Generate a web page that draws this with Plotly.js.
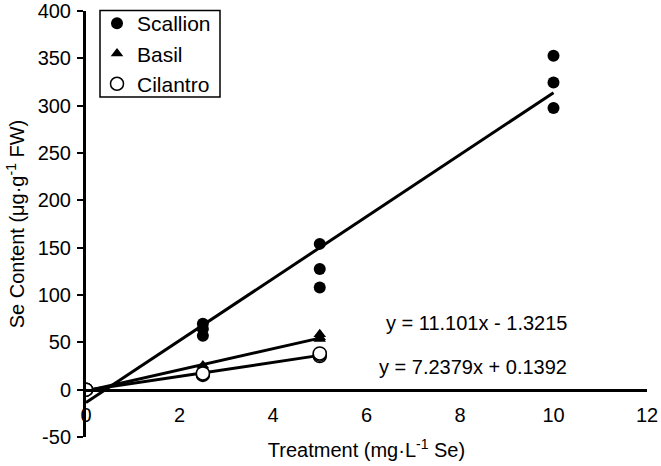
<!DOCTYPE html>
<html>
<head>
<meta charset="utf-8">
<script src="https://cdn.plot.ly/plotly-3.0.1.min.js"></script>
<style>html,body{margin:0;padding:0;background:#fff;}#chart{width:661px;height:466px;}</style>
</head>
<body>
<div id="chart"></div>
<script>
// Data
const scallionX = [0, 0, 0, 2.5, 2.5, 2.5, 5, 5, 5, 10, 10, 10];
const scallionY = [0, 0, 0, 69.7, 64, 57, 154, 127.5, 108, 352.7, 324.5, 297.5];
const basilX = [0, 0, 0, 2.5, 2.5, 2.5, 5, 5, 5];
const basilY = [0, 0, 0, 22, 24, 25.5, 53.5, 55.5, 58.5];
const cilantroX = [0, 0, 0, 2.5, 2.5, 2.5, 5, 5, 5];
const cilantroY = [0, 0, 0, 15.5, 16.4, 17.2, 35.5, 37, 38.3];
const equationLabels = ["y = 11.101x - 1.3215", "y = 7.2379x + 0.1392"];
const xTicks = [0, 2, 4, 6, 8, 10, 12];
const yTicks = [-50, 0, 50, 100, 150, 200, 250, 300, 350, 400];
const yTickLabels = ["-50", "0", "50", "100", "150", "200", "250", "300", "350", "400"];

function fit(xs, ys) {
  const n = xs.length;
  const mx = xs.reduce((a, b) => a + b, 0) / n;
  const my = ys.reduce((a, b) => a + b, 0) / n;
  let sxy = 0, sxx = 0;
  for (let i = 0; i < n; i++) { sxy += (xs[i] - mx) * (ys[i] - my); sxx += (xs[i] - mx) ** 2; }
  const m = sxy / sxx, b = my - m * mx;
  const x0 = Math.min(...xs), x1 = Math.max(...xs);
  return { x: [x0, x1], y: [m * x0 + b, m * x1 + b] };
}

const font = "Arial, 'Liberation Sans', sans-serif";
const lineStyle = { color: "#000", width: 3 };
const traces = [];
[[scallionX, scallionY], [basilX, basilY], [cilantroX, cilantroY]].forEach(([xs, ys]) => {
  const f = fit(xs, ys);
  traces.push({ x: f.x, y: f.y, mode: "lines", line: lineStyle, showlegend: false, hoverinfo: "skip" });
});
traces.push({ name: "Scallion", x: scallionX, y: scallionY, mode: "markers", type: "scatter",
  marker: { symbol: "circle", size: 12, color: "#000" } });
traces.push({ name: "Basil", x: basilX, y: basilY, mode: "markers", type: "scatter",
  marker: { symbol: "triangle-up", size: 11, color: "#000" } });
traces.push({ name: "Cilantro", x: cilantroX, y: cilantroY, mode: "markers", type: "scatter",
  marker: { symbol: "circle", size: 13, color: "#fff", line: { color: "#000", width: 1.5 } } });

// pixel -> paper helpers for the plot area (l=86, r=647, t=11, b=437)
const px = v => (v - 86) / 561;
const py = v => (437 - v) / 426;

const layout = {
  width: 661, height: 466,
  margin: { l: 86, r: 14, t: 11, b: 29, autoexpand: false },
  paper_bgcolor: "#fff", plot_bgcolor: "#fff",
  font: { family: font, size: 20, color: "#000" },
  showlegend: true,
  legend: { x: px(97), y: py(3), xanchor: "left", yanchor: "top", borderwidth: 0,
    bgcolor: "rgba(0,0,0,0)", font: { size: 21, family: font } },
  shapes: [
    { type: "rect", xref: "paper", yref: "paper", x0: px(100), x1: px(220), y0: py(97), y1: py(10.5),
      line: { color: "#000", width: 1.5 }, fillcolor: "rgba(0,0,0,0)", layer: "above" }
  ],
  xaxis: {
    range: [0, 12], tickvals: xTicks, showgrid: false, zeroline: false,
    showline: true, linecolor: "#000", linewidth: 3,
    anchor: "free", position: 50 / 450, ticks: "", ticklabelstandoff: 6,
    tickfont: { size: 20 },
    title: { text: "Treatment (mg·L<sup>-1</sup> Se)", font: { size: 20 }, standoff: 18 }
  },
  yaxis: {
    range: [-50, 400], tickvals: yTicks, ticktext: yTickLabels, showgrid: false, zeroline: false,
    showline: true, linecolor: "#000", linewidth: 3,
    ticks: "outside", ticklen: 6, tickwidth: 2, tickcolor: "#000", ticklabelstandoff: 2,
    tickfont: { size: 20 },
    title: { text: "Se Content (μg·g<sup>-1</sup> FW)", font: { size: 20 }, standoff: 8 }
  },
  annotations: [
    { xref: "paper", yref: "paper", xanchor: "center", yanchor: "middle",
      x: px(476), y: py(323), text: equationLabels[0], showarrow: false, font: { size: 20 } },
    { xref: "paper", yref: "paper", xanchor: "center", yanchor: "middle",
      x: px(473), y: py(367), text: equationLabels[1], showarrow: false, font: { size: 20 } }
  ]
};
Plotly.newPlot("chart", traces, layout, { displayModeBar: false, staticPlot: true });
</script>
</body>
</html>
